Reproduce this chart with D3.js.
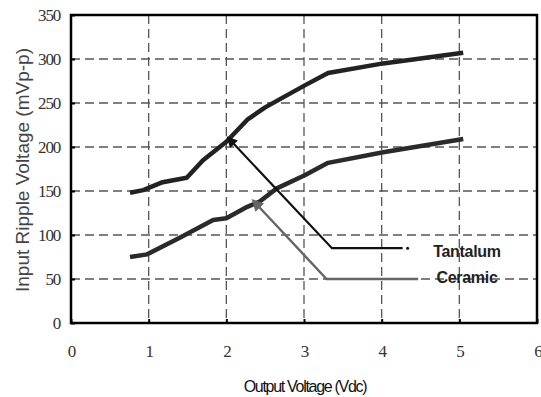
<!DOCTYPE html>
<html>
<head>
<meta charset="utf-8">
<script src="https://cdn.jsdelivr.net/npm/d3@7"></script>
<style>
  body { margin: 0; background: #fff; }
  svg { display: block; }
</style>
</head>
<body>
<svg id="chart" width="541" height="397"></svg>
<script>
// Data
var tantalumX = [0.76, 0.93, 1.18, 1.49, 1.70, 2.0, 2.27, 2.50, 3.01, 3.31, 4.02, 5.05];
var tantalumY = [148, 151, 160, 165, 185, 206, 231, 245, 270, 284, 295, 307];
var ceramicX = [0.76, 0.98, 1.40, 1.83, 2.0, 2.27, 2.43, 2.65, 3.01, 3.31, 4.02, 5.05];
var ceramicY = [75, 78, 97, 117, 119, 132, 138, 153, 168, 182, 194, 209];
var xTicks = [0, 1, 2, 3, 4, 5, 6];
var yTicks = [0, 50, 100, 150, 200, 250, 300, 350];
var seriesNames = ['Tantalum', 'Ceramic'];
// callouts: arrow head, elbow, end of line (data units)
var calloutX = [[2.08, 3.36, 4.27], [2.41, 3.29, 4.47]];
var calloutY = [[205, 85, 85], [133, 50, 50]];

function zipXY(xs, ys) {
  return xs.map(function(v, i) { return [v, ys[i]]; });
}

function render() {
  'use strict';
  var svg = d3.select('#chart'),
    margin = {top: 15, right: 4, bottom: 74, left: 71},
    width = 541 - margin.left - margin.right,
    height = 397 - margin.top - margin.bottom;

  var x = d3.scaleLinear().domain([0, 6]).range([0, width]);
  var y = d3.scaleLinear().domain([0, 350]).range([height, 0]);

  var g = svg.append('g')
    .attr('transform', 'translate(' + margin.left + ',' + margin.top + ')');

  // dashed grid
  g.selectAll('.vgrid')
    .data(xTicks.slice(1, -1))
    .enter().append('line')
      .attr('x1', function(d) { return x(d); })
      .attr('x2', function(d) { return x(d); })
      .attr('y1', 0).attr('y2', height)
      .attr('stroke', '#555').attr('stroke-width', 1.3)
      .attr('stroke-dasharray', '9,5');
  g.selectAll('.hgrid')
    .data(yTicks.slice(1, -1))
    .enter().append('line')
      .attr('x1', 0).attr('x2', width)
      .attr('y1', function(d) { return y(d); })
      .attr('y2', function(d) { return y(d); })
      .attr('stroke', '#555').attr('stroke-width', 1.3)
      .attr('stroke-dasharray', '9,5');

  // axes with inner ticks
  var xAxis = g.append('g')
    .attr('transform', 'translate(0,' + height + ')')
    .call(d3.axisBottom(x).tickValues(xTicks).tickFormat(d3.format('d'))
      .tickSizeInner(-4).tickSizeOuter(0).tickPadding(22));
  var yAxis = g.append('g')
    .call(d3.axisLeft(y).tickValues(yTicks).tickFormat(d3.format('d'))
      .tickSizeInner(-4).tickSizeOuter(0).tickPadding(11));
  [xAxis, yAxis].forEach(function(a) {
    a.select('.domain').remove();
    a.selectAll('line').attr('stroke', '#000').attr('stroke-width', 2);
    a.selectAll('text')
      .attr('font-family', 'Liberation Serif, serif')
      .attr('font-size', 17)
      .attr('letter-spacing', -1.2)
      .attr('fill', '#333');
  });
  // last x label sits on the page edge, as in the reference
  xAxis.selectAll('.tick text')
    .filter(function(d) { return d === 6; })
    .attr('text-anchor', 'end').attr('dx', 4);

  // frame
  g.append('rect')
    .attr('x', 0).attr('y', 0)
    .attr('width', width).attr('height', height)
    .attr('fill', 'none').attr('stroke', '#000').attr('stroke-width', 2.5);

  var line = d3.line()
    .x(function(d) { return x(d[0]); })
    .y(function(d) { return y(d[1]); });

  g.append('path')
    .datum(zipXY(tantalumX, tantalumY))
    .attr('d', line)
    .attr('fill', 'none').attr('stroke', '#222').attr('stroke-width', 4.5)
    .attr('stroke-linejoin', 'round');
  g.append('path')
    .datum(zipXY(ceramicX, ceramicY))
    .attr('d', line)
    .attr('fill', 'none').attr('stroke', '#2a2a2a').attr('stroke-width', 4.5)
    .attr('stroke-linejoin', 'round');

  // callout arrows
  var defs = svg.append('defs');
  var arrowColors = ['#111', '#666'];
  arrowColors.forEach(function(c, i) {
    defs.append('marker')
      .attr('id', 'arrow' + i)
      .attr('viewBox', '0 0 10 10')
      .attr('refX', 2).attr('refY', 5)
      .attr('markerWidth', 5).attr('markerHeight', 5)
      .attr('orient', 'auto-start-reverse')
      .append('path')
        .attr('d', 'M0,0 L10,5 L0,10 Z')
        .attr('fill', c);
  });

  calloutX.forEach(function(xs, i) {
    g.append('path')
      .datum(zipXY(xs, calloutY[i]))
      .attr('d', line)
      .attr('fill', 'none')
      .attr('stroke', arrowColors[i])
      .attr('stroke-width', i === 0 ? 2.2 : 2.4)
      .attr('marker-start', 'url(#arrow' + i + ')');
  });

  // dot after the tantalum callout line
  g.append('circle')
    .attr('cx', x(calloutX[0][2]) + 5).attr('cy', y(calloutY[0][2]))
    .attr('r', 1.5).attr('fill', '#111');

  // labels
  g.selectAll('.lbl')
    .data(seriesNames)
    .enter().append('text')
      .attr('x', 396)
      .attr('y', function(d, i) { return [236, 262][i]; })
      .attr('text-anchor', 'middle')
      .attr('dominant-baseline', 'central')
      .attr('font-family', 'Liberation Sans, Arial, sans-serif')
      .attr('font-size', 16)
      .attr('font-weight', 'bold')
      .attr('letter-spacing', -0.3)
      .attr('fill', '#222')
      .text(function(d) { return d; });

  // axis titles
  svg.append('text')
    .attr('x', 305).attr('y', 386)
    .attr('text-anchor', 'middle')
    .attr('dominant-baseline', 'central')
    .attr('font-family', 'Liberation Sans, Arial, sans-serif')
    .attr('font-size', 16)
    .attr('letter-spacing', -1.3)
    .attr('fill', '#111')
    .text('Output Voltage (Vdc)');

  svg.append('text')
    .attr('transform', 'translate(22,170) rotate(-90)')
    .attr('text-anchor', 'middle')
    .attr('dominant-baseline', 'central')
    .attr('font-family', 'Liberation Sans, Arial, sans-serif')
    .attr('font-size', 19)
    .attr('fill', '#444')
    .text('Input Ripple Voltage (mVp-p)');
}

render();
</script>
</body>
</html>
